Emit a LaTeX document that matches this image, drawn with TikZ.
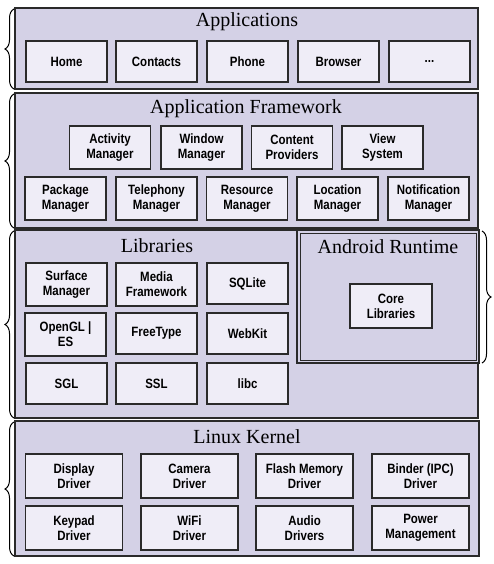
\documentclass[tikz,border=0pt]{standalone}
\usepackage{fontspec}
\setmainfont{Liberation Serif}
\newfontfamily\boxfont[FakeStretch=0.85]{Liberation Sans}
\usetikzlibrary{decorations.pathreplacing}
\definecolor{layerfill}{HTML}{D4D1E6}
\definecolor{boxfill}{HTML}{EFEDF7}
\definecolor{edge}{HTML}{2A2A2A}
\begin{document}
\begin{tikzpicture}[x=1pt,y=-1pt,
  layer/.style={draw=edge,line width=1.6pt,fill=layerfill},
  box/.style={draw=edge,line width=1.3pt,fill=boxfill,align=center,
    font=\boxfont\bfseries\fontsize{13.5}{15}\selectfont,inner sep=0pt},
  bw/.style={minimum width=81pt,minimum height=42pt},
  kw/.style={minimum width=97pt,minimum height=44pt},
  title/.style={font=\fontsize{20}{22}\selectfont,inner sep=0pt},
  brc/.style={decorate,decoration={brace,amplitude=9pt},line width=1pt,draw=black}]
\useasboundingbox (0,0) rectangle (493,564);
% layers
\draw[layer] (15,8) rectangle (478,89);
\draw[layer] (15,93) rectangle (478,228);
\draw[layer] (15,230) rectangle (478,418);
\draw[layer] (297,230) rectangle (479,363);
\draw[edge,line width=0.8pt] (300,233) rectangle (476,360);
\draw[layer] (15,421) rectangle (479,556);
% braces
\coordinate (b1t) at (14,9);   \coordinate (b1b) at (14,89);
\coordinate (b2t) at (14,94);  \coordinate (b2b) at (14,228);
\coordinate (b3t) at (14,231); \coordinate (b3b) at (14,418);
\coordinate (b4t) at (14,422); \coordinate (b4b) at (14,556);
\coordinate (b5t) at (482,231); \coordinate (b5b) at (482,363);
\draw[brc] (b1b) -- (b1t);
\draw[brc] (b2b) -- (b2t);
\draw[brc] (b3b) -- (b3t);
\draw[brc] (b4b) -- (b4t);
\draw[brc] (b5t) -- (b5b);
% titles
\node[title] (tapp) at (247,22) {Applications};
\node[title] (tfw) at (246,109) {Application Framework};
\node[title] (tlib) at (157,246) {Libraries};
\node[title] (trt) at (388,247) {Android Runtime};
\node[title] (tk) at (247,437) {Linux Kernel};
% applications
\node[box,bw,minimum height=41pt] (home) at (66.5,61.5) {Home};
\node[box,bw,minimum height=41pt] (contacts) at (156.5,61.5) {Contacts};
\node[box,bw,minimum height=41pt] (phone) at (247.5,61.5) {Phone};
\node[box,bw,minimum height=41pt] (browser) at (338.5,61.5) {Browser};
\node[box,bw,minimum height=41pt] (more) at (429.5,61.5) {...};
% framework
\node[box,bw,minimum height=43pt] (act) at (110,147.5) {Activity\\Manager};
\node[box,bw,minimum height=43pt] (win) at (201.5,147.5) {Window\\Manager};
\node[box,bw,minimum height=43pt] (cont) at (292,147.5) {Content\\Providers};
\node[box,bw,minimum height=43pt] (view) at (382.5,147.5) {View\\System};
\node[box,bw,minimum height=43pt] (pkg) at (65.5,198.5) {Package\\Manager};
\node[box,bw,minimum height=43pt] (tel) at (156.5,198.5) {Telephony\\Manager};
\node[box,bw,minimum height=43pt] (res) at (247,198.5) {Resource\\Manager};
\node[box,bw,minimum height=43pt] (loc) at (337.5,198.5) {Location\\Manager};
\node[box,bw,minimum height=43pt] (notif) at (428.5,198.5) {Notification\\Manager};
% libraries
\node[box,bw,minimum height=43pt] (surf) at (66.5,284.5) {Surface\\Manager};
\node[box,bw,minimum height=43pt] (media) at (156.5,284.5) {Media\\Framework};
\node[box,bw,minimum height=41pt] (sql) at (247.5,283.5) {SQLite};
\node[box,bw,minimum height=43pt] (ogl) at (65.5,334.5) {OpenGL |\\ES};
\node[box,bw,minimum height=41pt] (ft) at (156.5,333.5) {FreeType};
\node[box,bw,minimum height=41pt] (wk) at (247.5,333.5) {WebKit};
\node[box,bw,minimum height=41pt] (sgl) at (66.5,383.5) {SGL};
\node[box,bw,minimum height=41pt] (ssl) at (156.5,383.5) {SSL};
\node[box,bw,minimum height=41pt] (libc) at (247.5,383.5) {libc};
% runtime
\node[box,minimum width=82pt,minimum height=44pt] (core) at (391,306) {Core\\Libraries};
% kernel
\node[box,kw] (disp) at (74,476) {Display\\Driver};
\node[box,kw] (cam) at (189.5,476) {Camera\\Driver};
\node[box,kw] (flash) at (304.5,476) {Flash Memory\\Driver};
\node[box,kw] (bind) at (420.5,476) {Binder (IPC)\\Driver};
\node[box,kw] (key) at (74,528) {Keypad\\Driver};
\node[box,kw] (wifi) at (189.5,528) {WiFi\\Driver};
\node[box,kw] (audio) at (304.5,528) {Audio\\Drivers};
\node[box,kw] (power) at (420.5,528) {Power\\Management};
\end{tikzpicture}
\end{document}
